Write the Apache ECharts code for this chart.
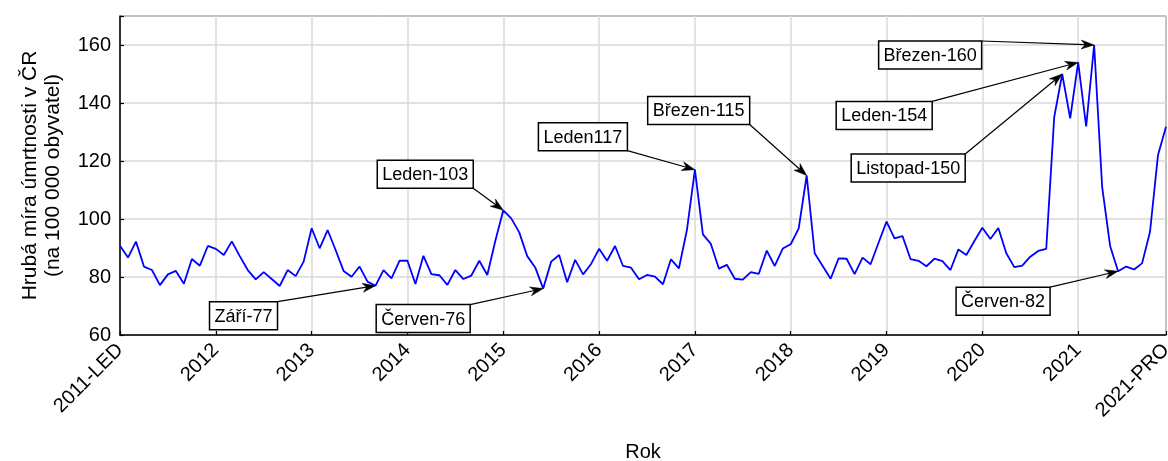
<!DOCTYPE html>
<html>
<head>
<meta charset="utf-8">
<script src="https://cdn.jsdelivr.net/npm/echarts@6/dist/echarts.min.js"></script>
<style>
  html, body { margin: 0; padding: 0; background: #fff; }
  #chart { width: 1168px; height: 461px; }
</style>
</head>
<body>
<div id="chart"></div>
<script>
// Monthly crude death rate in the Czech Republic (per 100 000 inhabitants), 2011–2021
const years = [2011, 2012, 2013, 2014, 2015, 2016, 2017, 2018, 2019, 2020, 2021];
const monthCodes = ['LED', 'ÚNO', 'BŘE', 'DUB', 'KVĚ', 'ČVN', 'ČVC', 'SRP', 'ZÁŘ', 'ŘÍJ', 'LIS', 'PRO'];

const rate2011 = [90.8, 86.7, 92.2, 83.6, 82.4, 77.2, 80.9, 82.1, 77.7, 86.2, 83.9, 90.7];
const rate2012 = [89.7, 87.6, 92.3, 87.2, 82.4, 79.2, 81.7, 79.3, 76.9, 82.4, 80.3, 85.3];
const rate2013 = [96.8, 89.9, 96.2, 89.3, 82.1, 80.1, 83.6, 78.4, 77, 82.4, 79.5, 85.6];
const rate2014 = [85.6, 77.6, 87.3, 81.0, 80.6, 77.3, 82.4, 79.3, 80.5, 85.6, 80.7, 92.4];
const rate2015 = [103, 100.2, 95.4, 87.2, 83.3, 76, 85.3, 87.6, 78.2, 85.9, 80.9, 84.5];
const rate2016 = [89.7, 85.6, 90.7, 83.8, 83.2, 79.2, 80.7, 80.1, 77.5, 86.1, 83.0, 96.2];
const rate2017 = [117, 94.7, 91.4, 82.9, 84.2, 79.4, 79.1, 81.7, 81.1, 89.1, 83.8, 89.8];
const rate2018 = [91.3, 96.8, 115, 88.2, 83.8, 79.4, 86.4, 86.3, 81.0, 86.7, 84.4, 91.8];
const rate2019 = [99.1, 93.3, 94.1, 86.2, 85.6, 83.7, 86.3, 85.5, 82.4, 89.5, 87.6, 92.4];
const rate2020 = [97.0, 93.1, 96.9, 88.2, 83.4, 83.9, 87.0, 89.0, 89.7, 135.1, 150, 134.7];
const rate2021 = [154, 131.9, 160, 111.2, 90.7, 82, 83.6, 82.6, 84.7, 95.6, 122.1, 131.8];

const yTicks = { min: 60, max: 170, step: 20 };

// Highlighted months: index into the monthly series, Czech month name, separator before the value
const callouts = [
  { index: 32,  month: 'Září',     sep: '-' },
  { index: 48,  month: 'Leden',    sep: '-' },
  { index: 53,  month: 'Červen',   sep: '-' },
  { index: 72,  month: 'Leden',    sep: ''  },
  { index: 86,  month: 'Březen',   sep: '-' },
  { index: 118, month: 'Listopad', sep: '-' },
  { index: 120, month: 'Leden',    sep: '-' },
  { index: 122, month: 'Březen',   sep: '-' },
  { index: 125, month: 'Červen',   sep: '-' }
];
// Placement of each callout box: centre offset from the marked point (px), and the box corner the arrow leaves from
const calloutPlacement = {
  32:  { dx: -132, dy: 30,  from: 'tr' },
  48:  { dx: -78,  dy: -36, from: 'br' },
  53:  { dx: -120, dy: 30,  from: 'tr' },
  72:  { dx: -112, dy: -33, from: 'br' },
  86:  { dx: -108, dy: -65, from: 'br' },
  118: { dx: -154, dy: 94,  from: 'tr' },
  120: { dx: -194, dy: 53,  from: 'tr' },
  122: { dx: -164, dy: 10,  from: 'tr' },
  125: { dx: -115, dy: 30,  from: 'tr' }
};

const rates = [].concat(rate2011, rate2012, rate2013, rate2014, rate2015, rate2016,
  rate2017, rate2018, rate2019, rate2020, rate2021);
const categories = [];
years.forEach(y => monthCodes.forEach(m => categories.push(y + '-' + m)));

const FONT = '"Liberation Sans", Arial, Helvetica, sans-serif';
const lastIndex = categories.length - 1;
const isMarked = idx => idx % 12 === 0 || idx === lastIndex;

const chart = echarts.init(document.getElementById('chart'), null, { renderer: 'canvas' });

const option = {
  animation: false,
  backgroundColor: '#fff',
  grid: {
    left: 120, right: 2, top: 16, bottom: 126,
    outerBoundsMode: 'none',
    containLabel: false,
    show: true, borderColor: '#000', borderWidth: 1, backgroundColor: 'transparent'
  },
  xAxis: {
    type: 'category',
    data: categories,
    boundaryGap: false,
    name: 'Rok',
    nameLocation: 'middle',
    nameGap: 107,
    nameTextStyle: { color: '#000', fontSize: 20, fontFamily: FONT },
    axisLine: { lineStyle: { color: '#000', width: 1.5 } },
    axisTick: { inside: true, length: 4, interval: isMarked, lineStyle: { color: '#000', width: 1.2 } },
    axisLabel: {
      interval: isMarked,
      rotate: 45,
      margin: 12,
      align: 'right',
      verticalAlign: 'middle',
      color: '#000',
      fontSize: 20,
      fontFamily: FONT,
      hideOverlap: false,
      formatter: (val, idx) => (idx === 0 || idx === lastIndex) ? val : val.split('-')[0]
    },
    splitLine: { show: true, interval: isMarked, lineStyle: { color: '#d8d8d8', width: 1.5 } }
  },
  yAxis: {
    type: 'value',
    min: yTicks.min,
    max: yTicks.max,
    interval: yTicks.step,
    name: 'Hrubá míra úmrtnosti v ČR\n(na 100 000 obyvatel)',
    nameLocation: 'middle',
    nameRotate: 90,
    nameGap: 55,
    nameTextStyle: { color: '#000', fontSize: 21, fontFamily: FONT, lineHeight: 23, align: 'center' },
    axisLine: { show: true, lineStyle: { color: '#000', width: 1.5 } },
    axisTick: { show: true, inside: true, length: 4, lineStyle: { color: '#000', width: 1.2 } },
    axisLabel: {
      color: '#000', fontSize: 20, fontFamily: FONT, margin: 9,
      formatter: v => (v === yTicks.max ? '' : String(v))
    },
    splitLine: { show: true, lineStyle: { color: '#d8d8d8', width: 1.5 } }
  },
  series: [{
    type: 'line',
    data: rates,
    showSymbol: false,
    symbol: 'none',
    lineStyle: { color: '#0000ff', width: 1.8 },
    z: 3
  }]
};

chart.setOption(option);

// Callout boxes with arrows pointing at the highlighted months
const measureCtx = document.createElement('canvas').getContext('2d');
const BOX_FONT = '18px ' + FONT;
measureCtx.font = BOX_FONT;

const graphics = [];
callouts.forEach(c => {
  const value = rates[c.index];
  const text = c.month + c.sep + value;
  const place = calloutPlacement[c.index];
  const target = chart.convertToPixel({ xAxisIndex: 0, yAxisIndex: 0 }, [c.index, value]);
  const w = Math.round(measureCtx.measureText(text).width + 10);
  const h = 28;
  const cx = target[0] + place.dx;
  const cy = target[1] + place.dy;
  const left = cx - w / 2, top = cy - h / 2;
  const sx = left + w;
  const sy = place.from === 'tr' ? top : top + h;

  // arrow
  const vx = target[0] - sx, vy = target[1] - sy;
  const len = Math.hypot(vx, vy);
  const ux = vx / len, uy = vy / len;
  const nx = -uy, ny = ux;
  const headLen = 13, headHalf = 4.5, notch = 9;
  const bx = target[0] - ux * headLen, by = target[1] - uy * headLen;
  const kx = target[0] - ux * notch, ky = target[1] - uy * notch;

  graphics.push({
    type: 'line', z: 20, silent: true,
    shape: { x1: sx, y1: sy, x2: kx, y2: ky },
    style: { stroke: '#000', lineWidth: 1.2 }
  });
  graphics.push({
    type: 'polygon', z: 21, silent: true,
    shape: { points: [
      [target[0], target[1]],
      [bx + nx * headHalf, by + ny * headHalf],
      [kx, ky],
      [bx - nx * headHalf, by - ny * headHalf]
    ] },
    style: { fill: '#000', stroke: '#000', lineWidth: 0.5 }
  });
  graphics.push({
    type: 'rect', z: 22, silent: true,
    shape: { x: left, y: top, width: w, height: h },
    style: { fill: '#fff', stroke: '#000', lineWidth: 1.5 }
  });
  graphics.push({
    type: 'text', z: 23, silent: true,
    style: {
      text: text, x: cx, y: cy + 1, font: BOX_FONT, fill: '#000',
      align: 'center', verticalAlign: 'middle',
      textAlign: 'center', textVerticalAlign: 'middle'
    }
  });
});

chart.setOption({ graphic: graphics });
</script>
</body>
</html>
